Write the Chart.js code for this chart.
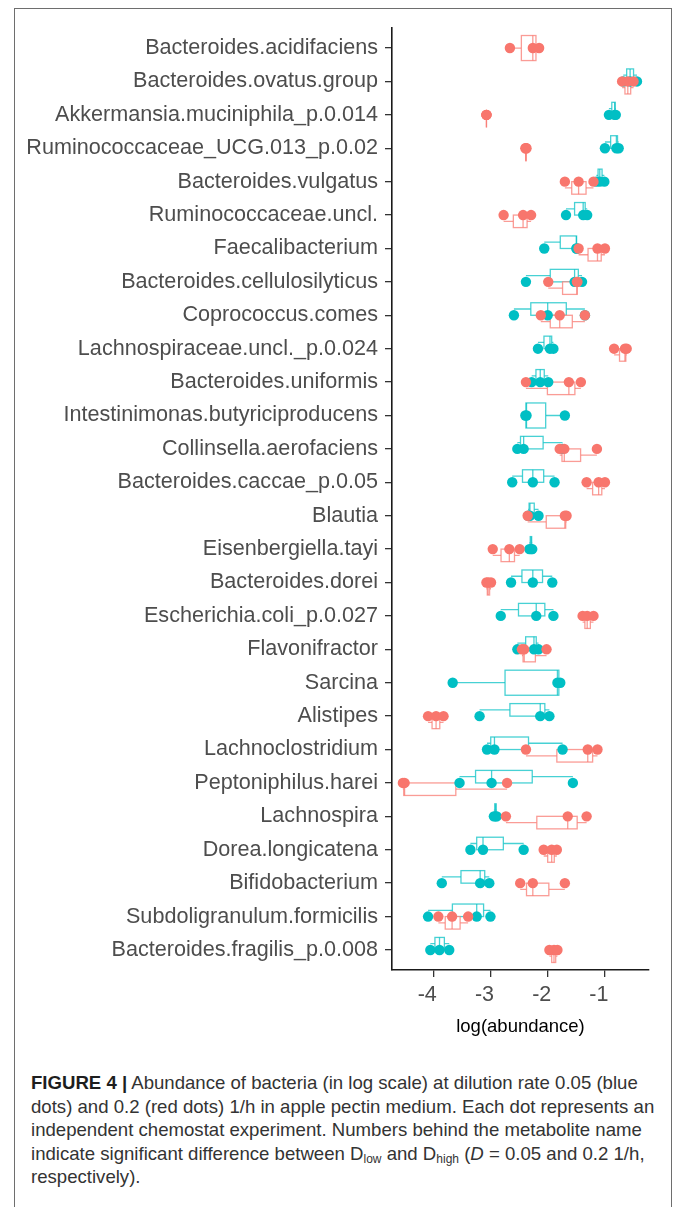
<!DOCTYPE html>
<html>
<head>
<meta charset="utf-8">
<script src="https://cdn.jsdelivr.net/npm/chart.js@4.4.1/dist/chart.umd.min.js"></script>
<style>
  html, body { margin: 0; padding: 0; background: #fff; }
  body { width: 674px; height: 1207px; position: relative; overflow: hidden; }
  #frame { position: absolute; left: 14px; top: 8px; width: 658px; height: 1230px;
           border: 1px solid #6e6e6e; border-bottom: none; box-sizing: border-box; }
  #plot { position: absolute; left: 0; top: 0; }
  #caption { position: absolute; left: 31px; top: 1071px; width: 640px;
             font-family: 'Liberation Sans', Arial, sans-serif; font-size: 18.6px;
             line-height: 23.5px; color: #333; white-space: nowrap; }
  #caption b { color: #1e1e1e; }
  #caption sub { font-size: 12px; line-height: 0; vertical-align: -3px; }
</style>
</head>
<body>
<div id="frame"></div>
<canvas id="plot" width="674" height="1045"></canvas>
<div id="caption">
  <div><b>FIGURE 4 |</b> Abundance of bacteria (in log scale) at dilution rate 0.05 (blue</div>
  <div>dots) and 0.2 (red dots) 1/h in apple pectin medium. Each dot represents an</div>
  <div>independent chemostat experiment. Numbers behind the metabolite name</div>
  <div>indicate significant difference between D<sub>low</sub> and D<sub>high</sub> (<i>D</i> = 0.05 and 0.2 1/h,</div>
  <div>respectively).</div>
</div>
<script>
// Taxa, top to bottom
const categories = [
  'Bacteroides.acidifaciens',
  'Bacteroides.ovatus.group',
  'Akkermansia.muciniphila_p.0.014',
  'Ruminococcaceae_UCG.013_p.0.02',
  'Bacteroides.vulgatus',
  'Ruminococcaceae.uncl.',
  'Faecalibacterium',
  'Bacteroides.cellulosilyticus',
  'Coprococcus.comes',
  'Lachnospiraceae.uncl._p.0.024',
  'Bacteroides.uniformis',
  'Intestinimonas.butyriciproducens',
  'Collinsella.aerofaciens',
  'Bacteroides.caccae_p.0.05',
  'Blautia',
  'Eisenbergiella.tayi',
  'Bacteroides.dorei',
  'Escherichia.coli_p.0.027',
  'Flavonifractor',
  'Sarcina',
  'Alistipes',
  'Lachnoclostridium',
  'Peptoniphilus.harei',
  'Lachnospira',
  'Dorea.longicatena',
  'Bifidobacterium',
  'Subdoligranulum.formicilis',
  'Bacteroides.fragilis_p.0.008'
];

// log(abundance) per chemostat run, D = 0.05 1/h (blue)
const lowD = [
  null,
  [-0.68, -0.56, -0.44],
  [-0.93, -0.83, -0.81],
  [-1.00, -0.80, -0.76],
  [-1.15, -1.09, -1.01],
  [-1.68, -1.38, -1.31],
  [-2.06, -1.50, -1.49],
  [-2.38, -1.53, -1.40],
  [-2.59, -2.00, -1.35],
  [-2.17, -1.96, -1.90],
  [-2.28, -2.13, -1.99],
  [-2.39, -2.37, -1.70],
  [-2.53, -2.42, -1.74],
  [-2.62, -2.26, -1.88],
  [-2.34, -2.31, -2.16],
  [-2.32, -2.29, -2.27],
  [-2.64, -2.26, -1.92],
  [-2.82, -2.20, -1.90],
  [-2.53, -2.24, -2.16],
  [-3.66, -1.83, -1.78],
  [-3.19, -2.13, -1.97],
  [-3.06, -2.93, -1.74],
  [-3.54, -2.98, -1.56],
  [-2.94, -2.91, -2.89],
  [-3.35, -3.13, -2.42],
  [-3.85, -3.18, -3.02],
  [-4.09, -3.24, -3.00],
  [-4.05, -3.89, -3.72]
];

// log(abundance) per chemostat run, D = 0.2 1/h (red)
const highD = [
  [-2.66, -2.26, -2.15],
  [-0.70, -0.60, -0.50],
  [-3.07, -3.07, -3.07],
  [-2.39, -2.38, -2.37],
  [-1.70, -1.46, -1.20],
  [-2.77, -2.43, -2.29],
  [-1.46, -1.13, -1.00],
  [-1.99, -1.49, -1.48],
  [-2.12, -1.79, -1.35],
  [-0.84, -0.65, -0.62],
  [-2.38, -1.63, -1.42],
  null,
  [-1.79, -1.71, -1.14],
  [-1.32, -1.11, -1.00],
  [-2.35, -1.70, -1.67],
  [-2.96, -2.67, -2.49],
  [-3.07, -3.04, -2.99],
  [-1.39, -1.31, -1.20],
  [-2.45, -2.41, -2.02],
  null,
  [-4.09, -3.95, -3.82],
  [-2.38, -1.30, -1.13],
  [-4.53, -4.50, -2.71],
  [-2.73, -1.65, -1.32],
  [-2.07, -1.93, -1.84],
  [-2.48, -2.26, -1.70],
  [-3.91, -3.67, -3.39],
  [-1.97, -1.89, -1.83]
];

const xTicks = [-4, -3, -2, -1];

const BLUE = '#00BFC4';
const RED = '#F8766D';
const FONT = "'Liberation Sans', Arial, sans-serif";

// Tukey box statistics (type-7 quantiles)
function quantile(sorted, p) {
  const h = (sorted.length - 1) * p;
  const lo = Math.floor(h), hi = Math.ceil(h);
  return sorted[lo] + (h - lo) * (sorted[hi] - sorted[lo]);
}
function boxStats(vals) {
  const s = vals.slice().sort((a, b) => a - b);
  const q1 = quantile(s, 0.25), med = quantile(s, 0.5), q3 = quantile(s, 0.75);
  const iqr = q3 - q1;
  const inside = s.filter(v => v >= q1 - 1.5 * iqr && v <= q3 + 1.5 * iqr);
  return { q1, med, q3, lo: Math.min(...inside), hi: Math.max(...inside) };
}

function toPoints(series) {
  const pts = [];
  series.forEach((vals, i) => { if (vals) vals.forEach(v => pts.push({ x: v, y: i })); });
  return pts;
}

// Dodged boxplots drawn under the points, positioned through the chart scales
const boxPlugin = {
  id: 'dodgedBoxes',
  beforeDatasetsDraw(chart) {
    const { ctx, scales: { x, y } } = chart;
    const groups = [
      { data: lowD, stroke: 'rgba(0,191,196,0.72)' },
      { data: highD, stroke: 'rgba(248,118,109,0.72)' }
    ];
    const boxWidth = 0.75;
    ctx.save();
    ctx.lineWidth = 1.3;
    categories.forEach((_, i) => {
      const present = groups.filter(g => g.data[i]);
      const span = boxWidth / present.length;
      present.forEach((g, k) => {
        const c = i - boxWidth / 2 + span * (k + 0.5);
        const st = boxStats(g.data[i]);
        const yTop = y.getPixelForValue(c - span / 2);
        const yBot = y.getPixelForValue(c + span / 2);
        const yMid = y.getPixelForValue(c);
        const xq1 = x.getPixelForValue(st.q1), xq3 = x.getPixelForValue(st.q3);
        const xmed = x.getPixelForValue(st.med);
        const xlo = x.getPixelForValue(st.lo), xhi = x.getPixelForValue(st.hi);
        ctx.strokeStyle = g.stroke;
        ctx.beginPath();
        ctx.moveTo(xlo, yMid); ctx.lineTo(xq1, yMid);
        ctx.moveTo(xq3, yMid); ctx.lineTo(xhi, yMid);
        ctx.stroke();
        ctx.fillStyle = '#fff';
        ctx.fillRect(xq1, yTop, xq3 - xq1, yBot - yTop);
        ctx.strokeRect(xq1, yTop, xq3 - xq1, yBot - yTop);
        ctx.beginPath();
        ctx.moveTo(xmed, yTop); ctx.lineTo(xmed, yBot);
        ctx.stroke();
      });
    });
    ctx.restore();
  }
};

new Chart(document.getElementById('plot'), {
  type: 'scatter',
  data: {
    datasets: [
      { label: 'D = 0.05 1/h', data: toPoints(lowD), backgroundColor: BLUE,
        pointRadius: 5.2, pointBorderWidth: 0, order: 2 },
      { label: 'D = 0.2 1/h', data: toPoints(highD), backgroundColor: RED,
        pointRadius: 5.2, pointBorderWidth: 0, order: 1 }
    ]
  },
  options: {
    responsive: false,
    animation: false,
    devicePixelRatio: 1,
    layout: { padding: { top: 28, right: 25, left: 0, bottom: 0 } },
    plugins: { legend: { display: false }, tooltip: { enabled: false } },
    scales: {
      x: {
        type: 'linear',
        min: -4.72, max: -0.23,
        afterBuildTicks: s => { s.ticks = xTicks.map(v => ({ value: v })); },
        afterFit: s => { s.height = 75; },
        ticks: { callback: v => String(v), color: '#4D4D4D', padding: 5, labelOffset: -6,
                 font: { family: FONT, size: 21.5 } },
        grid: { drawOnChartArea: false, drawTicks: true, tickLength: 7, color: '#333', lineWidth: 1.3 },
        border: { display: true, color: '#1a1a1a', width: 1.6 },
        title: { display: true, text: 'log(abundance)', color: '#000',
                 font: { family: FONT, size: 18.5 }, padding: { top: 0, bottom: 7 } }
      },
      y: {
        type: 'linear',
        reverse: true,
        min: -0.6, max: categories.length - 0.4,
        afterBuildTicks: s => { s.ticks = categories.map((_, i) => ({ value: i })); },
        afterFit: s => { s.width = 392; },
        ticks: { callback: v => categories[v], autoSkip: false, color: '#4D4D4D', padding: 7,
                 font: { family: FONT, size: 21.6 } },
        grid: { drawOnChartArea: false, drawTicks: true, tickLength: 7, color: '#333', lineWidth: 1.3 },
        border: { display: true, color: '#1a1a1a', width: 1.6 }
      }
    }
  },
  plugins: [boxPlugin]
});
</script>
</body>
</html>
